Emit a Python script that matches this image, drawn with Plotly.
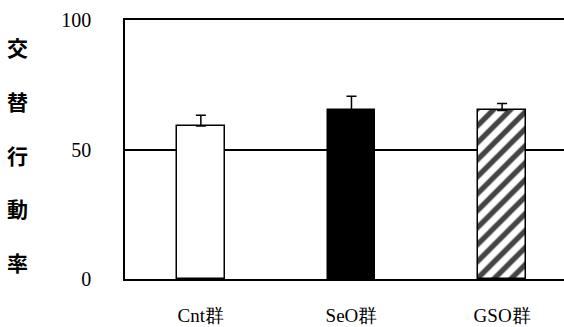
import plotly.graph_objects as go

categories = ["Cnt群", "SeO群", "GSO群"]
means = [59.1, 65.2, 65.1]
errors_up = [4.1, 5.4, 2.7]
title_chars = ["交", "替", "行", "動", "率"]
y_ticks = [0, 50, 100]

fill_colors = ["white", "black", "white"]
patterns = ["", "", "/"]

fig = go.Figure()
fig.add_trace(go.Bar(
    x=categories, y=means, width=0.315,
    marker=dict(color=fill_colors, line=dict(color="black", width=1.5),
                pattern=dict(shape=patterns, fgcolor="black", fgopacity=1,
                             size=12, solidity=0.45, fillmode="overlay")),
    error_y=dict(type="data", array=errors_up, arrayminus=[0, 0, 0], symmetric=False,
                 color="black", thickness=1.5, width=5),
    showlegend=False,
))

serif = "Liberation Serif"
fig.update_layout(
    width=564, height=327,
    margin=dict(l=125, r=0, t=20, b=48, autoexpand=False),
    paper_bgcolor="white", plot_bgcolor="white",
    bargap=0,
    xaxis=dict(range=[-0.5035, 2.411], showline=True, mirror=True, linecolor="black", linewidth=1.5,
               ticks="", tickfont=dict(family=serif, size=19, color="black"),
               ticklabelstandoff=18, showgrid=False, fixedrange=True, automargin=False),
    yaxis=dict(range=[0, 100], tickvals=y_ticks, showline=True, linecolor="black", linewidth=1.5,
               showgrid=True, gridcolor="black", gridwidth=1.5, zeroline=False,
               ticks="", tickfont=dict(family=serif, size=20, color="black"),
               ticklabelstandoff=28, fixedrange=True, automargin=False),
)

for i, ch in enumerate(title_chars):
    fig.add_annotation(
        text="<b>" + ch + "</b>", xref="paper", yref="paper",
        x=-0.246, y=0.895 - i * 0.2075, xanchor="center", yanchor="middle",
        showarrow=False, font=dict(family="Noto Sans CJK JP", size=21, color="black"),
    )

fig.write_html("out.html", config={"displayModeBar": False},
               post_script="document.body.style.margin='0';document.body.style.overflow='hidden';")
